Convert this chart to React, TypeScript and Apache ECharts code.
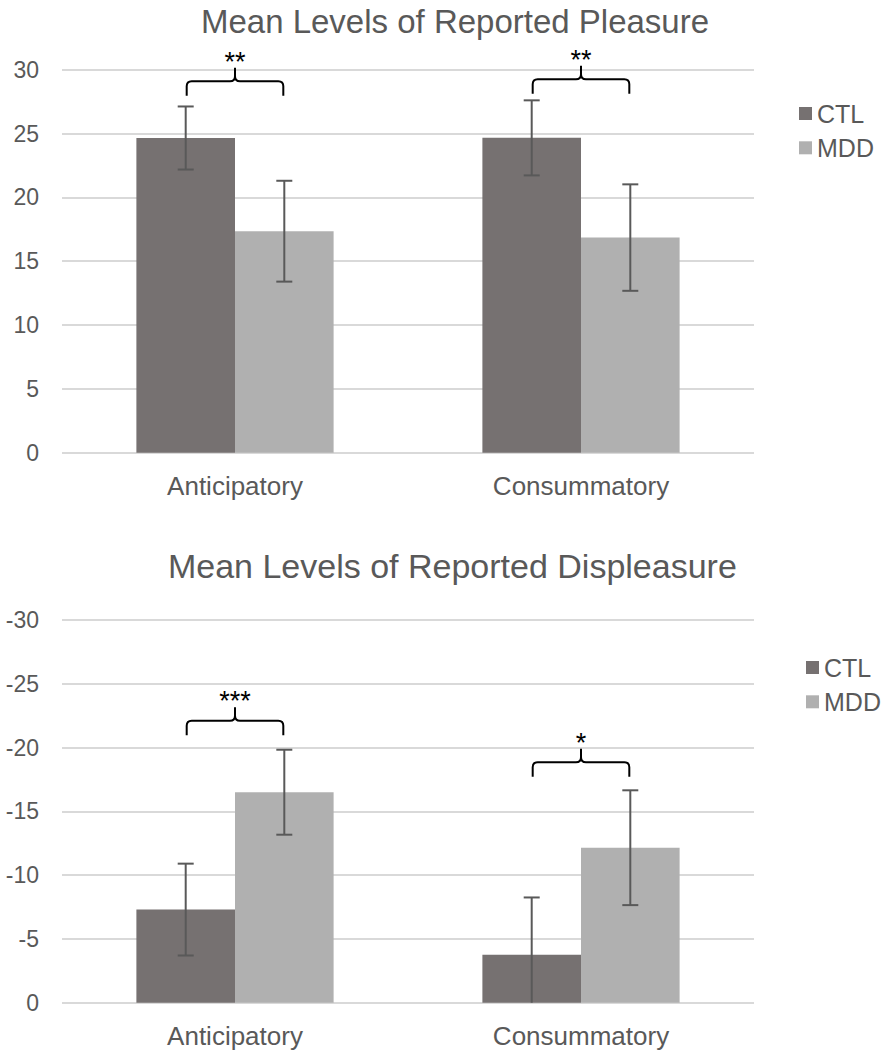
import React, { useEffect, useRef } from "react";
import * as echarts from "echarts";

const categories = ["Anticipatory", "Consummatory"];
const groups = ["CTL", "MDD"];
const titles = ["Mean Levels of Reported Pleasure", "Mean Levels of Reported Displeasure"];

// Pleasure (top chart)
const pleasureCTL = [24.65, 24.66];
const pleasureMDD = [17.35, 16.85];
const pleasureErrCTL = [2.47, 2.94];
const pleasureErrMDD = [3.95, 4.17];
const pleasureSig = ["**", "**"];
const pleasureBracketLevel = [29.1, 29.25];

// Displeasure (bottom chart), plotted as magnitudes, labelled negative
const displeasureCTL = [7.3, 3.75];
const displeasureMDD = [16.5, 12.15];
const displeasureErrCTL = [3.6, 4.5];
const displeasureErrMDD = [3.33, 4.5];
const displeasureSig = ["***", "*"];
const displeasureBracketLevel = [22.1, 18.85];

const yMin = 0;
const yMax = 30;
const yStep = 5;

const COLOR_CTL = "#767171";
const COLOR_MDD = "#b0b0b0";
const TEXT = "#595959";
const FONT = "'Liberation Sans', Arial, sans-serif";
const CAT_GAP = 0.43;

function errRender(sign: number) {
  return (params: any, api: any) => {
    const cat = api.value(0);
    const lo = api.value(1);
    const hi = api.value(2);
    const band = api.size([1, 0])[0];
    const bw = (band * (1 - CAT_GAP)) / 2;
    const top = api.coord([cat, hi]);
    const bot = api.coord([cat, Math.max(lo, 0)]);
    const x = top[0] + (sign * bw) / 2;
    const cap = 8;
    const style = { stroke: "#595959", lineWidth: 2 };
    const children: any[] = [
      { type: "line", shape: { x1: x, y1: top[1], x2: x, y2: bot[1] }, style },
      { type: "line", shape: { x1: x - cap, y1: top[1], x2: x + cap, y2: top[1] }, style },
    ];
    if (lo > 0) {
      children.push({ type: "line", shape: { x1: x - cap, y1: bot[1], x2: x + cap, y2: bot[1] }, style });
    }
    return { type: "group", children };
  };
}

function bracketRender(labels: string[]) {
  return (params: any, api: any) => {
    const cat = api.value(0);
    const level = api.value(1);
    const band = api.size([1, 0])[0];
    const bw = (band * (1 - CAT_GAP)) / 2;
    const c = api.coord([cat, level]);
    const xm = c[0];
    const y = c[1];
    const x1 = xm - bw / 2 + 1;
    const x2 = xm + bw / 2 - 1;
    const r = 5;
    const drop = 14.5;
    const rise = 13.5;
    const d =
      `M${x1},${y + drop} L${x1},${y + r} Q${x1},${y} ${x1 + r},${y} L${xm - r},${y} Q${xm},${y} ${xm},${y - r} L${xm},${y - rise} ` +
      `M${xm},${y - r} Q${xm},${y} ${xm + r},${y} L${x2 - r},${y} Q${x2},${y} ${x2},${y + r} L${x2},${y + drop}`;
    return {
      type: "group",
      children: [
        { type: "path", shape: { pathData: d }, style: { stroke: "#000", fill: "none", lineWidth: 2 } },
        {
          type: "text",
          style: {
            text: labels[params.dataIndex],
            x: xm,
            y: y - rise - 6,
            align: "center",
            verticalAlign: "middle",
            fontSize: 27,
            fontFamily: FONT,
            fill: "#000",
          },
        },
      ],
    };
  };
}

function makeErrData(means: number[], errs: number[]) {
  return means.map((m, i) => [i, m - errs[i], m + errs[i]]);
}

function makeBracketData(levels: number[]) {
  return levels.map((l, i) => [i, l]);
}

export default function App() {
  const ref = useRef<HTMLDivElement>(null);

  useEffect(() => {
    if (!ref.current) return;
    const chart = echarts.init(ref.current, undefined, { renderer: "svg" });

    const grids = [
      { left: 62, right: 127, top: 69.7, height: 383 },
      { left: 62, right: 127, top: 620, height: 382.7 },
    ];

    const xAxisDef = (idx: number) => ({
      type: "category",
      gridIndex: idx,
      data: categories,
      axisLine: { show: false },
      axisTick: { show: false },
      axisLabel: { fontSize: 26, color: TEXT, margin: 20, fontFamily: FONT },
    });

    const yAxisDef = (idx: number, neg: boolean) => ({
      type: "value",
      gridIndex: idx,
      min: yMin,
      max: yMax,
      interval: yStep,
      axisLine: { show: false },
      axisTick: { show: false },
      splitLine: { show: true, lineStyle: { color: "#d9d9d9", width: 2 } },
      axisLabel: {
        fontSize: 23,
        color: TEXT,
        margin: 23,
        fontFamily: FONT,
        formatter: (v: number) => (neg && v !== 0 ? "-" + v : String(v)),
      },
    });

    const barSeries = (name: string, idx: number, data: number[], color: string) => ({
      type: "bar",
      name,
      xAxisIndex: idx,
      yAxisIndex: idx,
      data,
      barGap: "0%",
      barCategoryGap: CAT_GAP * 100 + "%",
      itemStyle: { color },
      z: 2,
    });

    const errSeries = (idx: number, means: number[], errs: number[], sign: number) => ({
      type: "custom",
      name: "err" + idx + sign,
      xAxisIndex: idx,
      yAxisIndex: idx,
      data: makeErrData(means, errs),
      encode: { x: 0, y: [1, 2] },
      renderItem: errRender(sign),
      z: 5,
      silent: true,
    });

    const bracketSeries = (idx: number, levels: number[], labels: string[]) => ({
      type: "custom",
      name: "bracket" + idx,
      xAxisIndex: idx,
      yAxisIndex: idx,
      data: makeBracketData(levels),
      encode: { x: 0, y: 1 },
      renderItem: bracketRender(labels),
      clip: false,
      z: 6,
      silent: true,
    });

    const legendDef = (left: number, top: number) => ({
      data: groups,
      left,
      top,
      orient: "vertical",
      icon: "rect",
      itemWidth: 13,
      itemHeight: 13,
      itemGap: 9.3,
      padding: 0,
      selectedMode: false,
      textStyle: { fontSize: 25, color: TEXT, lineHeight: 24, fontFamily: FONT },
    });

    chart.setOption({
      animation: false,
      backgroundColor: "#ffffff",
      textStyle: { fontFamily: FONT },
      grid: grids,
      xAxis: [xAxisDef(0), xAxisDef(1)],
      yAxis: [yAxisDef(0, false), yAxisDef(1, true)],
      legend: [legendDef(799, 101), legendDef(806, 655)],
      graphic: [
        {
          type: "text",
          x: 455,
          y: 21,
          style: { text: titles[0], fontSize: 33, fill: TEXT, align: "center", verticalAlign: "middle", fontFamily: FONT },
        },
        {
          type: "text",
          x: 452.4,
          y: 565.5,
          style: { text: titles[1], fontSize: 34, fill: TEXT, align: "center", verticalAlign: "middle", fontFamily: FONT },
        },
      ],
      series: [
        barSeries(groups[0], 0, pleasureCTL, COLOR_CTL),
        barSeries(groups[1], 0, pleasureMDD, COLOR_MDD),
        barSeries(groups[0], 1, displeasureCTL, COLOR_CTL),
        barSeries(groups[1], 1, displeasureMDD, COLOR_MDD),
        errSeries(0, pleasureCTL, pleasureErrCTL, -1),
        errSeries(0, pleasureMDD, pleasureErrMDD, 1),
        errSeries(1, displeasureCTL, displeasureErrCTL, -1),
        errSeries(1, displeasureMDD, displeasureErrMDD, 1),
        bracketSeries(0, pleasureBracketLevel, pleasureSig),
        bracketSeries(1, displeasureBracketLevel, displeasureSig),
      ],
    });

    return () => chart.dispose();
  }, []);

  return (
    <div
      ref={ref}
      style={{ position: "absolute", left: 0, top: 0, width: 881, height: 1050, background: "#fff" }}
    />
  );
}
